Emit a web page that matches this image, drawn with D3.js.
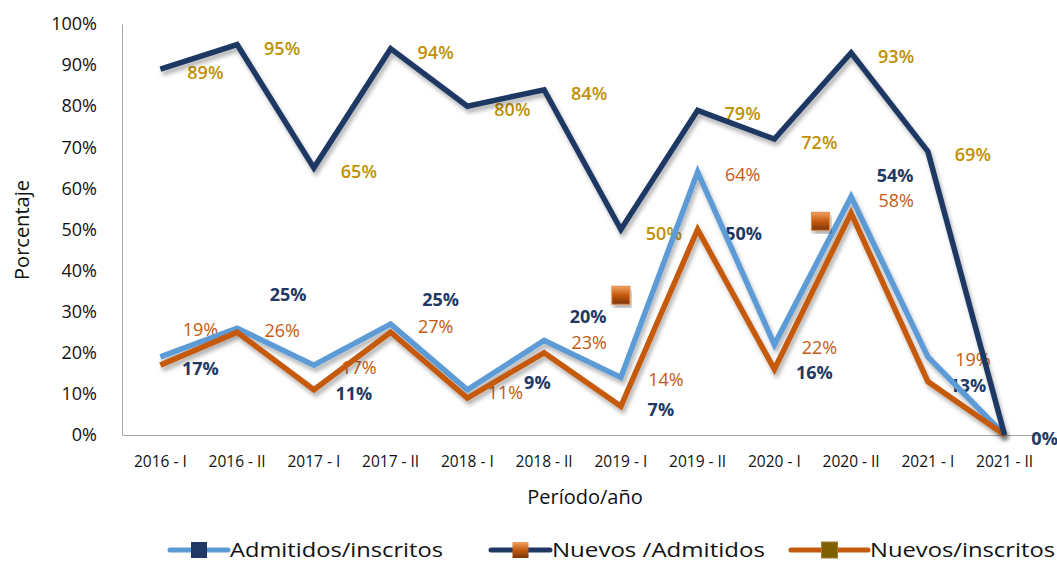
<!DOCTYPE html>
<html>
<head>
<meta charset="utf-8">
<title>Porcentaje por periodo</title>
<script src="https://cdn.jsdelivr.net/npm/d3@7"></script>
<style>
body { margin: 0; background: #fff; }
.axis text { font-family: "Open Sans", sans-serif; fill: #111; }
.axis path { stroke: #a6a6a6; }
.lbl { font-family: "Open Sans", sans-serif; font-size: 18px; text-anchor: middle; }
.txt { font-family: "Open Sans", sans-serif; fill: #111; }
</style>
</head>
<body>
<script>
// categorias y series (porcentajes)
var periodos = ["2016 - I","2016 - II","2017 - I","2017 - II","2018 - I","2018 - II",
                "2019 - I","2019 - II","2020 - I","2020 - II","2021 - I","2021 - II"];
var admitidosInscritos = [19, 26, 17, 27, 11, 23, 14, 64, 22, 58, 19, 0];
var nuevosAdmitidos    = [89, 95, 65, 94, 80, 84, 50, 79, 72, 93, 69, 0];
var nuevosInscritos    = [17, 25, 11, 25, 9, 20, 7, 50, 16, 54, 13, 0];
var yTicks = [0, 10, 20, 30, 40, 50, 60, 70, 80, 90, 100];
// marcadores sueltos (posicion de categoria, valor)
var sueltos = [{pos: 6, v: 34}, {pos: 8.6, v: 52}];

var width = 1057, height = 563;
var mLeft = 122, mRight = 1043, mTop = 24, mBottom = 435;

var svg = d3.select("body").append("svg")
  .attr("width", width).attr("height", height);

var defs = svg.append("defs");
var f = defs.append("filter").attr("id", "sombra")
  .attr("x", "-10%").attr("y", "-10%").attr("width", "120%").attr("height", "130%");
f.append("feDropShadow").attr("dx", 2).attr("dy", 4).attr("stdDeviation", 2)
  .attr("flood-color", "#000").attr("flood-opacity", 0.3);

var bev = defs.append("linearGradient").attr("id", "bevel").attr("x1", 0).attr("y1", 0).attr("x2", 0).attr("y2", 1);
bev.append("stop").attr("offset", "0%").attr("stop-color", "#f0a060");
bev.append("stop").attr("offset", "50%").attr("stop-color", "#c55a11");
bev.append("stop").attr("offset", "100%").attr("stop-color", "#7a3505");

var x = d3.scaleBand().domain(periodos).range([mLeft, mRight]).padding(0);
var xc = function(i){ return mLeft + (i + 0.5) * x.bandwidth(); };
var y = d3.scaleLinear().domain([0, 100]).range([mBottom, mTop]);

// ejes
svg.append("g").attr("class", "axis")
  .attr("transform", "translate(" + mLeft + ",0)")
  .call(d3.axisLeft(y).tickValues(yTicks).tickSize(0).tickPadding(25).tickFormat(function(d){ return d + "%"; }))
  .selectAll("text").style("font-size", "18px");
svg.append("g").attr("class", "axis")
  .attr("transform", "translate(0," + mBottom + ")")
  .call(d3.axisBottom(x).tickSize(0).tickPadding(21))
  .selectAll("text").style("font-size", "15.5px").style("fill", "#111");

svg.append("text").attr("class", "txt").attr("transform", "translate(29,230) rotate(-90)")
  .attr("text-anchor", "middle").style("font-size", "20px")
  .text("Porcentaje");
svg.append("text").attr("class", "txt").attr("x", 585).attr("y", 504)
  .attr("text-anchor", "middle").style("font-size", "20px").text("Período/año");

// etiquetas de datos
var labelSets = [
  {vals: nuevosAdmitidos, color: "#bf9000", weight: 600, dx: 45, dy: 4, skip: [11], off: {6: [43, 4]}},
  {vals: admitidosInscritos, color: "#c55a11", weight: 400, dx: 45, dy: 3, skip: [11], off: {0: [40, -27], 4: [38, 3], 9: [45, 4]}},
  {vals: nuevosInscritos, color: "#1f3864", weight: 700, dx: 40, dy: 4, skip: [],
   off: {1: [51, -37], 3: [50, -32], 4: [70, -15], 5: [44, -36], 7: [46, 4], 9: [44, -37]}}
];
labelSets.forEach(function(s){
  svg.append("g").selectAll("text")
    .data(s.vals.map(function(v, i){ return {v: v, i: i}; }).filter(function(d){ return s.skip.indexOf(d.i) < 0; }))
    .enter().append("text")
    .attr("class", "lbl")
    .attr("x", function(d){ return xc(d.i) + (s.off[d.i] ? s.off[d.i][0] : s.dx); })
    .attr("y", function(d){ return y(d.v) + (s.off[d.i] ? s.off[d.i][1] : s.dy) + 6; })
    .style("fill", s.color).style("font-weight", s.weight)
    .text(function(d){ return d.v + "%"; });
});

// lineas
var line = d3.line().x(function(d, i){ return xc(i); }).y(function(d){ return y(d); });
[[admitidosInscritos, "#5b9bd5"], [nuevosInscritos, "#c55a11"], [nuevosAdmitidos, "#1f3864"]].forEach(function(s){
  svg.append("path").datum(s[0])
    .attr("d", line).attr("fill", "none")
    .attr("stroke", s[1]).attr("stroke-width", 5.5)
    .attr("stroke-linejoin", "miter")
    .attr("filter", "url(#sombra)");
});

// marcadores sueltos
svg.selectAll("rect.suelto").data(sueltos).enter().append("rect")
  .attr("class", "suelto")
  .attr("x", function(d){ return xc(d.pos) - 9; })
  .attr("y", function(d){ return y(d.v) - 9; })
  .attr("width", 18).attr("height", 18)
  .attr("fill", "url(#bevel)").attr("stroke", "#e08a4a").attr("stroke-width", 1)
  .attr("filter", "url(#sombra)");

// leyenda
var legend = [
  {name: "Admitidos/inscritos", line: "#5b9bd5", mark: "#1f3864", x0: 170, x1: 228, w: 213},
  {name: "Nuevos /Admitidos", line: "#1f3864", mark: "url(#bevel)", x0: 491, x1: 550, w: 213},
  {name: "Nuevos/inscritos", line: "#c55a11", mark: "#7f6000", x0: 791, x1: 868, w: 185}
];
var lg = svg.append("g").selectAll("g").data(legend).enter().append("g");
lg.append("line").attr("x1", function(d){ return d.x0; }).attr("x2", function(d){ return d.x1; })
  .attr("y1", 550).attr("y2", 550).attr("stroke", function(d){ return d.line; })
  .attr("stroke-width", 5).attr("stroke-linecap", "round");
lg.append("rect").attr("x", function(d){ return (d.x0 + d.x1) / 2 - 8; }).attr("y", 542)
  .attr("width", 16).attr("height", 16).attr("fill", function(d){ return d.mark; })
  .attr("stroke", function(d){ return d.mark === "#7f6000" ? "#a08030" : "none"; });
lg.append("text").attr("class", "txt").attr("x", function(d){ return d.x1 + 2; }).attr("y", 557)
  .attr("textLength", function(d){ return d.w; }).attr("lengthAdjust", "spacingAndGlyphs")
  .style("font-size", "20px").text(function(d){ return d.name; });
</script>
</body>
</html>
